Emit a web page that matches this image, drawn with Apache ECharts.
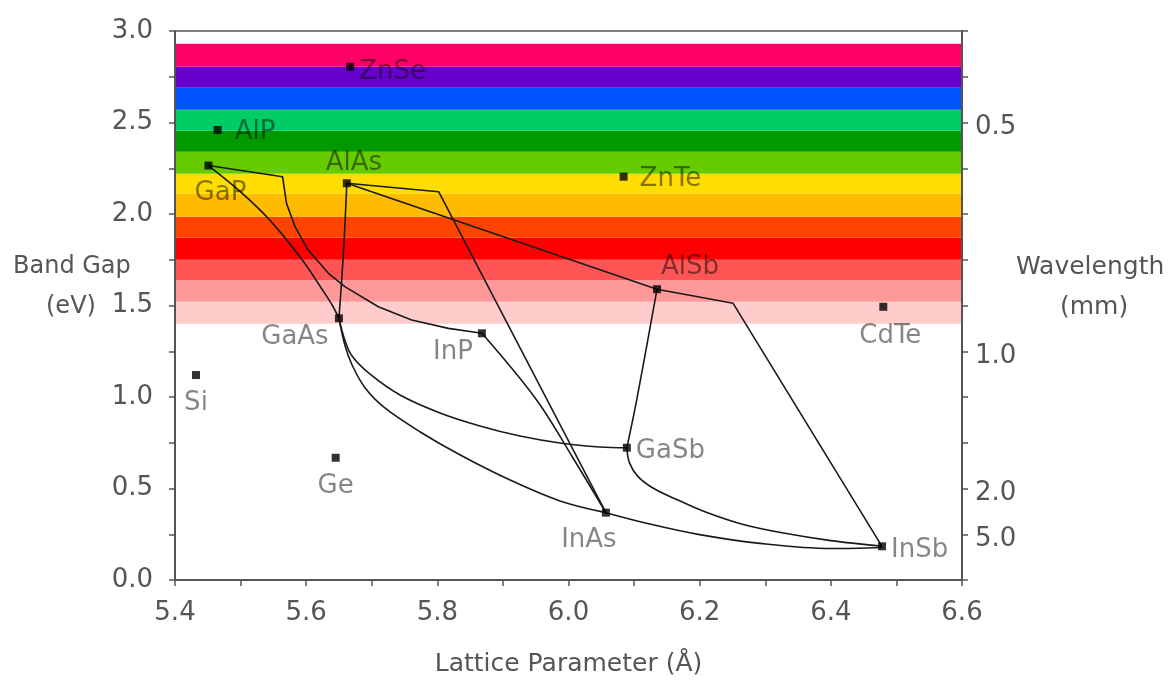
<!DOCTYPE html>
<html>
<head>
<meta charset="utf-8">
<script src="https://cdn.jsdelivr.net/npm/echarts@6/dist/echarts.min.js"></script>
<style>
  html, body { margin: 0; padding: 0; background: #ffffff; }
  #chart { width: 1172px; height: 684px; }
</style>
</head>
<body>
<div id="chart"></div>
<script>
// Binary semiconductors: lattice parameter (Å) and band gap (eV)
const compounds = ['Si', 'Ge', 'GaAs', 'AlAs', 'GaP', 'AlP', 'InP', 'InAs', 'InSb', 'GaSb', 'AlSb', 'ZnSe', 'ZnTe', 'CdTe'];
const latticeA  = [5.432, 5.645, 5.650, 5.662, 5.451, 5.465, 5.868, 6.057, 6.478, 6.089, 6.135, 5.667, 6.084, 6.480];
const bandGapEV = [1.120, 0.668, 1.430, 2.168, 2.265, 2.459, 1.348, 0.368, 0.184, 0.723, 1.589, 2.805, 2.204, 1.493];

// Ternary alloy curves, [lattice, gap] pairs
const curveGaInP = [[5.451, 2.265], [5.564, 2.204], [5.570, 2.058], [5.583, 1.931], [5.603, 1.803], [5.634, 1.676], [5.659, 1.603], [5.710, 1.493], [5.761, 1.421], [5.817, 1.375], [5.868, 1.348]];
const curveGaAsP = [[5.451, 2.265], [5.497, 2.131], [5.533, 2.010], [5.563, 1.890], [5.598, 1.730], [5.624, 1.590], [5.640, 1.500], [5.650, 1.430]];
const curveAlGaAs = [[5.662, 2.168], [5.657, 1.800], [5.650, 1.430]];
const curveAlInAs = [[5.662, 2.168], [5.802, 2.122], [6.057, 0.368]];
const curveAlAsSb = [[5.662, 2.168], [6.135, 1.589]];
const curveAlInSb = [[6.135, 1.589], [6.251, 1.512], [6.478, 0.184]];
const curveAlGaSb = [[6.135, 1.589], [6.104, 0.984], [6.089, 0.723]];
const curveInAsP = [[5.868, 1.348], [5.950, 0.990], [6.008, 0.660], [6.057, 0.368]];
const curveGaInAs = [[5.650, 1.430], [5.659, 1.284], [5.670, 1.175], [5.690, 1.049], [5.720, 0.940], [5.774, 0.809], [5.835, 0.683], [5.911, 0.546], [5.987, 0.432], [6.057, 0.368]];
const curveGaAsSb = [[5.650, 1.430], [5.659, 1.311], [5.670, 1.224], [5.697, 1.126], [5.743, 1.011], [5.804, 0.913], [5.865, 0.842], [5.926, 0.787], [5.987, 0.749], [6.048, 0.727], [6.089, 0.723]];
const curveGaInSb = [[6.089, 0.723], [6.093, 0.640], [6.106, 0.565], [6.130, 0.500], [6.165, 0.440], [6.210, 0.370], [6.265, 0.305], [6.330, 0.255], [6.400, 0.215], [6.478, 0.184]];
const curveInAsSb = [[6.057, 0.368], [6.124, 0.306], [6.200, 0.248], [6.292, 0.200], [6.400, 0.172], [6.478, 0.178]];

// Visible spectrum bands (eV edges, bottom to top) and their colours
const spectrumEdges = [1.40, 1.52, 1.64, 1.75, 1.87, 1.985, 2.11, 2.22, 2.34, 2.455, 2.57, 2.69, 2.805, 2.93];
const spectrumColors = ['#ffcccc', '#ff9999', '#ff5555', '#ff0000', '#ff4400', '#ffbb00', '#ffdd00', '#66cc00', '#009900', '#00cc66', '#0055ff', '#6600cc', '#ff0066'];

// Wavelength scale on the right axis: tick position (eV) and label (µm)
const wavelengthTickEV = [2.5, 1.25, 0.5, 0.25];
const wavelengthLabels = ['0.5', '1.0', '2.0', '5.0'];

// Label placement around each compound marker
const labelPlace = {
  Si:   { align: 'center', dx: 0,   dy: 28 },
  Ge:   { align: 'center', dx: 0,   dy: 28 },
  GaAs: { align: 'center', dx: -44, dy: 19 },
  AlAs: { align: 'center', dx: 7,   dy: -20 },
  GaP:  { align: 'center', dx: 12,  dy: 28 },
  AlP:  { align: 'left',   dx: 17,  dy: 2 },
  InP:  { align: 'center', dx: -29, dy: 19 },
  InAs: { align: 'center', dx: -17, dy: 28 },
  InSb: { align: 'left',   dx: 9,   dy: 4 },
  GaSb: { align: 'left',   dx: 9,   dy: 4 },
  AlSb: { align: 'center', dx: 33,  dy: -22 },
  ZnSe: { align: 'left',   dx: 9,   dy: 6 },
  ZnTe: { align: 'left',   dx: 16,  dy: 3 },
  CdTe: { align: 'center', dx: 7,   dy: 29 }
};

const FONT = 'DejaVu Sans';
const AXIS_GREY = '#555555';
const TICK_FONT = 26;

const curves = [
  { data: curveGaInP, smooth: false },
  { data: curveGaAsP, smooth: 0.35 },
  { data: curveAlGaAs, smooth: 0.35 },
  { data: curveAlInAs, smooth: false },
  { data: curveAlAsSb, smooth: false },
  { data: curveAlInSb, smooth: false },
  { data: curveAlGaSb, smooth: 0.35 },
  { data: curveInAsP, smooth: 0.35 },
  { data: curveGaInAs, smooth: 0.35 },
  { data: curveGaAsSb, smooth: 0.35 },
  { data: curveGaInSb, smooth: 0.35 },
  { data: curveInAsSb, smooth: 0.35 }
];

const bandAreas = spectrumColors.map((c, i) => [
  { yAxis: spectrumEdges[i], itemStyle: { color: c, opacity: 1 } },
  { yAxis: spectrumEdges[i + 1] }
]);

const pointData = compounds.map((name, i) => {
  const p = labelPlace[name];
  return {
    name: name,
    value: [latticeA[i], bandGapEV[i]],
    label: { offset: [p.dx, p.dy], align: p.align }
  };
});

const series = [
  {
    type: 'line',
    data: [],
    z: 1,
    silent: true,
    markArea: { silent: true, data: bandAreas }
  }
].concat(curves.map(c => ({
  type: 'line',
  data: c.data,
  smooth: c.smooth,
  showSymbol: false,
  symbol: 'none',
  z: 3,
  silent: true,
  lineStyle: { color: '#1a1a1a', width: 1.6 }
}))).concat([{
  type: 'scatter',
  data: pointData,
  symbol: 'rect',
  symbolSize: 8,
  z: 5,
  itemStyle: { color: '#000000' },
  label: {
    show: true,
    position: 'inside',
    formatter: '{b}',
    fontFamily: FONT,
    fontSize: 26,
    color: 'rgba(0,0,0,0.6)',
    verticalAlign: 'middle'
  }
}]);

const chart = echarts.init(document.getElementById('chart'), null, { renderer: 'canvas' });
chart.setOption({
  animation: false,
  backgroundColor: '#ffffff',
  grid: {
    left: 175, right: 210, top: 31, bottom: 104,
    show: true, borderColor: AXIS_GREY, borderWidth: 1.5, backgroundColor: 'transparent'
  },
  xAxis: {
    type: 'value', min: 5.4, max: 6.6, interval: 0.2,
    z: 10,
    name: 'Lattice Parameter (Å)',
    nameLocation: 'middle', nameGap: 72,
    nameTextStyle: { fontFamily: FONT, fontSize: 25, color: AXIS_GREY },
    axisLine: { show: true, lineStyle: { color: AXIS_GREY, width: 2 } },
    axisTick: { show: true, inside: false, length: 6, lineStyle: { color: AXIS_GREY, width: 1.5 } },
    minorTick: { show: true, splitNumber: 2, length: 6, lineStyle: { color: AXIS_GREY, width: 1.5 } },
    axisLabel: { margin: 20, fontFamily: FONT, fontSize: TICK_FONT, color: AXIS_GREY, formatter: v => v.toFixed(1) },
    splitLine: { show: false }
  },
  yAxis: [
    {
      type: 'value', min: 0, max: 3, interval: 0.5, position: 'left',
      z: 10,
      axisLine: { show: true, lineStyle: { color: AXIS_GREY, width: 2 } },
      axisTick: { show: true, inside: false, length: 6, lineStyle: { color: AXIS_GREY, width: 1.5 } },
      minorTick: { show: true, splitNumber: 2, length: 6, lineStyle: { color: AXIS_GREY, width: 1.5 } },
      axisLabel: { margin: 22, fontFamily: FONT, fontSize: TICK_FONT, color: AXIS_GREY, formatter: v => v.toFixed(1) },
      splitLine: { show: false }
    },
    {
      type: 'value', min: 0, max: 3, interval: 0.25, position: 'right',
      z: 10,
      axisLine: { show: true, lineStyle: { color: AXIS_GREY, width: 2 } },
      axisTick: { show: true, inside: false, length: 6, lineStyle: { color: AXIS_GREY, width: 1.5 } },
      axisLabel: {
        margin: 13,
        formatter: v => {
          const k = wavelengthTickEV.findIndex(t => Math.abs(t - v) < 1e-6);
          return k >= 0 ? '{w|' + wavelengthLabels[k] + '}' : '';
        },
        rich: {
          w: { fontFamily: FONT, fontSize: TICK_FONT, color: AXIS_GREY, padding: [10, 0, 0, 0] }
        }
      },
      splitLine: { show: false }
    }
  ],
  graphic: [
    { type: 'text', left: 13, top: 255, style: { text: 'Band Gap', font: '24px "DejaVu Sans"', fill: AXIS_GREY } },
    { type: 'text', left: 46, top: 295, style: { text: '(eV)', font: '24px "DejaVu Sans"', fill: AXIS_GREY } },
    { type: 'text', left: 1016, top: 255, style: { text: 'Wavelength', font: '25px "DejaVu Sans"', fill: AXIS_GREY } },
    { type: 'text', left: 1060, top: 295, style: { text: '(mm)', font: '25px "DejaVu Sans"', fill: AXIS_GREY } }
  ],
  series: series
});
</script>
</body>
</html>
